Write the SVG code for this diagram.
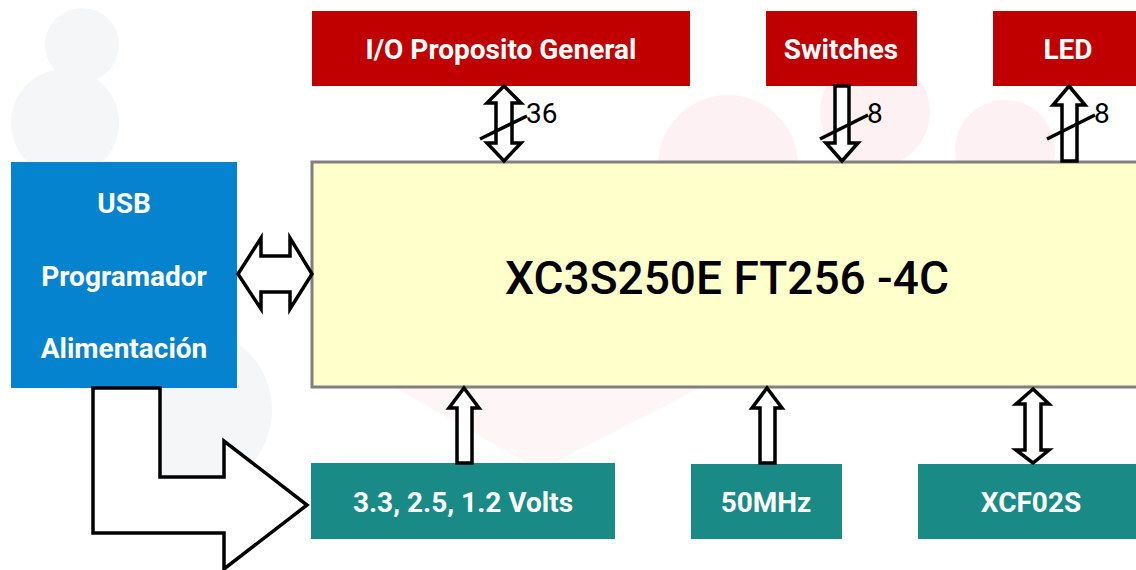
<svg xmlns="http://www.w3.org/2000/svg" width="1136" height="570" viewBox="0 0 1136 570">
<style>
.red{fill:#C00000}
.teal{fill:#1A8A87}
.wt{fill:#FFFFFF;font-family:Roboto,"Liberation Sans",sans-serif;font-size:28px;font-weight:bold;text-anchor:middle}
.lbl{fill:#000000;font-family:Roboto,"Liberation Sans",sans-serif;font-size:28px}
.arr{fill:#FFFFFF;stroke:#000000;stroke-width:3.5;stroke-linejoin:miter}
.sl{stroke:#000000;stroke-width:3.5;fill:none}
.bg1{fill:#F5F6F8}
.bg2{fill:#FDF1F4}
</style>
<rect width="1136" height="570" fill="#FFFFFF"/>
<g id="background">
<circle class="bg1" cx="82" cy="45" r="37"/>
<circle class="bg1" cx="65" cy="123" r="54"/>
<circle class="bg1" cx="190" cy="410" r="82"/>
<circle class="bg2" cx="728" cy="165" r="70"/>
<circle class="bg2" cx="875" cy="112" r="55"/>
<circle class="bg2" cx="1005" cy="150" r="50"/>
<polygon class="bg2" points="395,388 700,388 540,470" opacity="0.7"/>
</g>
<g id="nodes">
<g id="io">
<rect class="red" x="312" y="11" width="378" height="75"/>
<text class="wt" x="501" y="59">I/O Proposito General</text>
</g>
<g id="switches">
<rect class="red" x="766" y="11" width="151" height="75"/>
<text class="wt" x="841" y="59">Switches</text>
</g>
<g id="led">
<rect class="red" x="993" y="11" width="150" height="75"/>
<text class="wt" x="1068" y="59">LED</text>
</g>
<g id="usb">
<rect x="11" y="162" width="226" height="226" fill="#0583CF"/>
<text class="wt" x="124" y="213">USB</text>
<text class="wt" x="124" y="286">Programador</text>
<text class="wt" x="124" y="358">Alimentación</text>
</g>
<g id="fpga">
<rect x="312" y="162" width="840" height="225" fill="#FFFFCC" stroke="#808080" stroke-width="3"/>
<text x="727" y="294" fill="#000000" font-family="Roboto,'Liberation Sans',sans-serif" font-size="46" font-weight="500" text-anchor="middle">XC3S250E FT256 -4C</text>
</g>
<g id="volts">
<rect class="teal" x="311" y="463" width="304" height="76"/>
<text class="wt" x="463" y="512">3.3, 2.5, 1.2 Volts</text>
</g>
<g id="clk">
<rect class="teal" x="691" y="464" width="151" height="75"/>
<text class="wt" x="766" y="512">50MHz</text>
</g>
<g id="xcf">
<rect class="teal" x="918" y="464" width="226" height="75"/>
<text class="wt" x="1031" y="512">XCF02S</text>
</g>
</g>
<g id="connectors">
<polygon class="arr" points="504,86 521,103 512,103 512,143 521,143 504,161 487,143 496,143 496,103 487,103"/>
<line class="sl" x1="480" y1="139" x2="527" y2="116"/>
<text class="lbl" x="526" y="123">36</text>
<polygon class="arr" points="835,86 849,86 849,143 858,143 842,161 826,143 835,143"/>
<line class="sl" x1="820" y1="139" x2="868" y2="115"/>
<text class="lbl" x="867" y="123">8</text>
<polygon class="arr" points="1069,86 1085,105 1077,105 1077,161 1062,161 1062,105 1053,105"/>
<line class="sl" x1="1047" y1="139" x2="1095" y2="115"/>
<text class="lbl" x="1094" y="123">8</text>
<polygon class="arr" points="238,274 261,238 261,256 290,256 290,238 312,274 290,309 290,292 261,292 261,309"/>
<polygon class="arr" points="464,388 479,408 472,408 472,463 457,463 457,408 449,408"/>
<polygon class="arr" points="767,388 782,408 775,408 775,463 760,463 760,408 752,408"/>
<polygon class="arr" points="1033,389 1049,404 1041,404 1041,450 1049,450 1033,463 1016,450 1025,450 1025,404 1016,404"/>
<polygon class="arr" points="93,388 160,388 160,477 224,477 224,441 307,505 224,569 224,533 93,533"/>
</g>
</svg>
